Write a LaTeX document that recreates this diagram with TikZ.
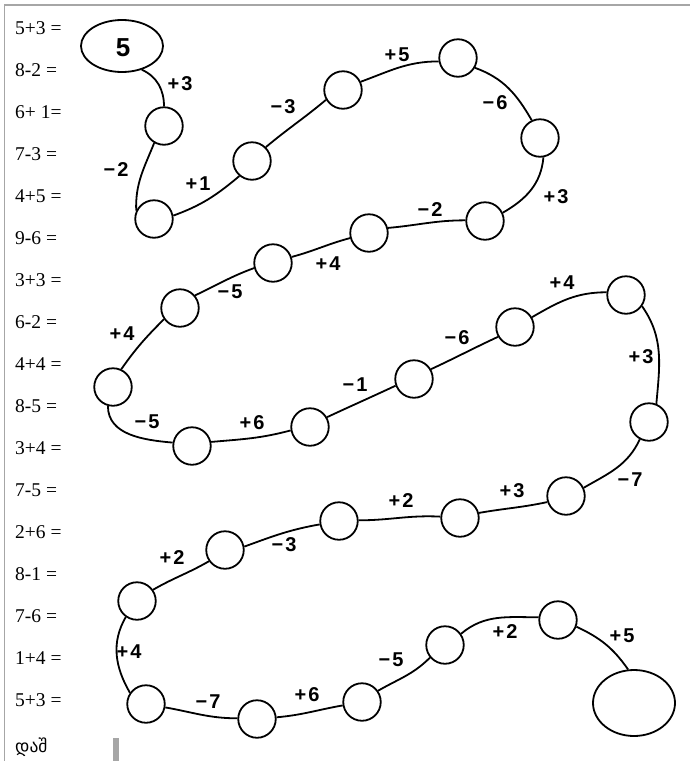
\documentclass[tikz,border=0pt]{standalone}
\usepackage{fontspec}
\setmainfont{Liberation Serif}
\newfontfamily\labfont{Liberation Sans}
\newfontfamily\geofont{DejaVu Sans}
\begin{document}
\begin{tikzpicture}[x=1pt,y=1pt,
  bead/.style={circle,draw,line width=1.8pt,minimum size=37.5pt,inner sep=0pt},
  oval/.style={ellipse,draw,line width=1.8pt,inner sep=0pt},
  link/.style={line width=1.8pt},
  op/.style={font=\labfont\bfseries\fontsize{20}{22}\selectfont,inner sep=0pt},
  eq/.style={anchor=base west,font=\fontsize{19.5}{22}\selectfont,inner sep=0pt},
  frame/.style={draw=black!35,line width=1.6pt}]
\usetikzlibrary{shapes.geometric}
\useasboundingbox (0,0) rectangle (692,-761);
\fill[white] (0,0) rectangle (692,-761);
\draw[frame] (4.5,-761) -- (4.5,-5) -- (690,-5);
\fill[black!35] (113,-738) rectangle (119,-761);
% equations
\foreach \t [count=\i from 0] in {5+3 =,8-2 =,6+ 1=,7-3 =,4+5 =,9-6 =,3+3 =,6-2 =,4+4 =,8-5 =,3+4 =,7-5 =,2+6 =,8-1 =,7-6 =,1+4 =,5+3 =}
  \node[eq] (eq\i) at (15,{-34-42.03*\i}) {\t};
\node[eq,font=\geofont\fontsize{17.5}{20}\selectfont] (geo) at (15,-752) {დაშ};
\begin{scope}
\clip (0,0) rectangle (692,-738);
\node[oval,minimum width=82pt,minimum height=52pt] (S0) at (122,-46) {};
\node[font=\labfont\bfseries\fontsize{26}{28}\selectfont] (five) at (123,-48) {5};
\node[bead] (A) at (164,-126) {};
\node[bead] (B) at (154,-219) {};
\node[bead] (C) at (252,-161) {};
\node[bead] (D) at (343,-90) {};
\node[bead] (E) at (458,-58) {};
\node[bead] (F) at (540,-138) {};
\node[bead] (G) at (485,-221) {};
\node[bead] (H) at (369,-233) {};
\node[bead] (I) at (273,-263) {};
\node[bead] (J) at (180,-308) {};
\node[bead] (K) at (113,-387) {};
\node[bead] (L) at (192,-446) {};
\node[bead] (M) at (310,-427) {};
\node[bead] (N) at (414,-379) {};
\node[bead] (O) at (515,-327) {};
\node[bead] (P) at (626,-295) {};
\node[bead] (Q) at (649,-422) {};
\node[bead] (R) at (566,-496) {};
\node[bead] (S) at (460,-518) {};
\node[bead] (T) at (339,-521) {};
\node[bead] (U) at (225,-550) {};
\node[bead] (V) at (137,-601) {};
\node[bead] (W) at (146,-704) {};
\node[bead] (X) at (257,-719) {};
\node[bead] (Y) at (362,-702) {};
\node[bead] (Z) at (445,-645) {};
\node[bead] (AA) at (558,-620) {};
\node[oval,minimum width=82pt,minimum height=66pt] (END) at (634,-703) {};
% connectors
\draw[link] (S0.-50) to[out=-25,in=90] (A.90);
\draw[link] (A.-120) to[out=-112,in=92] (B.155);
\draw[link] (B.10) to[out=20,in=-140] (C.-130);
\draw[link] (C.45) to[out=40,in=-140] (D.-150);
\draw[link] (D.25) to[out=20,in=180] (E.-170);
\draw[link] (E.-30) to[out=-20,in=120] (F.115);
\draw[link] (F.-80) to[out=-95,in=30] (G.25);
\draw[link] (G.178) to[out=180,in=5] (H.15);
\draw[link] (H.195) to[out=195,in=15] (I.18);
\draw[link] (I.195) to[out=200,in=25] (J.40);
\draw[link] (J.215) to[out=225,in=55] (K.65);
\draw[link] (K.-105) to[out=-90,in=175] (L.170);
\draw[link] (L.12) to[out=5,in=195] (M.190);
\draw[link] (M.30) to[out=25,in=205] (N.200);
\draw[link] (N.30) to[out=25,in=205] (O.210);
\draw[link] (O.30) to[out=30,in=180] (P.172);
\draw[link] (P.-35) to[out=-55,in=85] (Q.68);
\draw[link] (Q.-118) to[out=-115,in=30] (R.25);
\draw[link] (R.198) to[out=192,in=10] (S.15);
\draw[link] (S.176) to[out=177,in=0] (T.2);
\draw[link] (T.190) to[out=190,in=20] (U.10);
\draw[link] (U.215) to[out=210,in=30] (V.35);
\draw[link] (V.-125) to[out=-120,in=120] (W.145);
\draw[link] (W.-10) to[out=-10,in=180] (X.178);
\draw[link] (X.5) to[out=5,in=190] (Y.190);
\draw[link] (Y.35) to[out=30,in=225] (Z.220);
\draw[link] (Z.35) to[out=40,in=180] (AA.172);
\draw[link] (AA.-20) to[out=-25,in=125] (END.100);
% labels
\node[op] (l1) at (180,-84) {+\kern2pt3};
\node[op] (l2) at (116,-170) {−\kern2pt2};
\node[op] (l3) at (198,-184) {+\kern2pt1};
\node[op] (l4) at (283,-107) {−\kern2pt3};
\node[op] (l5) at (397,-55) {+\kern2pt5};
\node[op] (l6) at (495,-103) {−\kern2pt6};
\node[op] (l7) at (556,-197) {+\kern2pt3};
\node[op] (l8) at (430,-210) {−\kern2pt2};
\node[op] (l9) at (328,-264) {+\kern2pt4};
\node[op] (l10) at (230,-292) {−\kern2pt5};
\node[op] (l11) at (122,-334) {+\kern2pt4};
\node[op] (l12) at (147,-422) {−\kern2pt5};
\node[op] (l13) at (252,-423) {+\kern2pt6};
\node[op] (l14) at (355,-385) {−\kern2pt1};
\node[op] (l15) at (457,-338) {−\kern2pt6};
\node[op] (l16) at (562,-283) {+\kern2pt4};
\node[op] (l17) at (641,-357) {+\kern2pt3};
\node[op] (l18) at (630,-480) {−\kern2pt7};
\node[op] (l19) at (512,-491) {+\kern2pt3};
\node[op] (l20) at (401,-501) {+\kern2pt2};
\node[op] (l21) at (284,-545) {−\kern2pt3};
\node[op] (l22) at (172,-558) {+\kern2pt2};
\node[op] (l23) at (129,-652) {+\kern2pt4};
\node[op] (l24) at (208,-702) {−\kern2pt7};
\node[op] (l25) at (307,-695) {+\kern2pt6};
\node[op] (l26) at (391,-660) {−\kern2pt5};
\node[op] (l27) at (505,-632) {+\kern2pt2};
\node[op] (l28) at (622,-636) {+\kern2pt5};
\end{scope}
\end{tikzpicture}
\end{document}
